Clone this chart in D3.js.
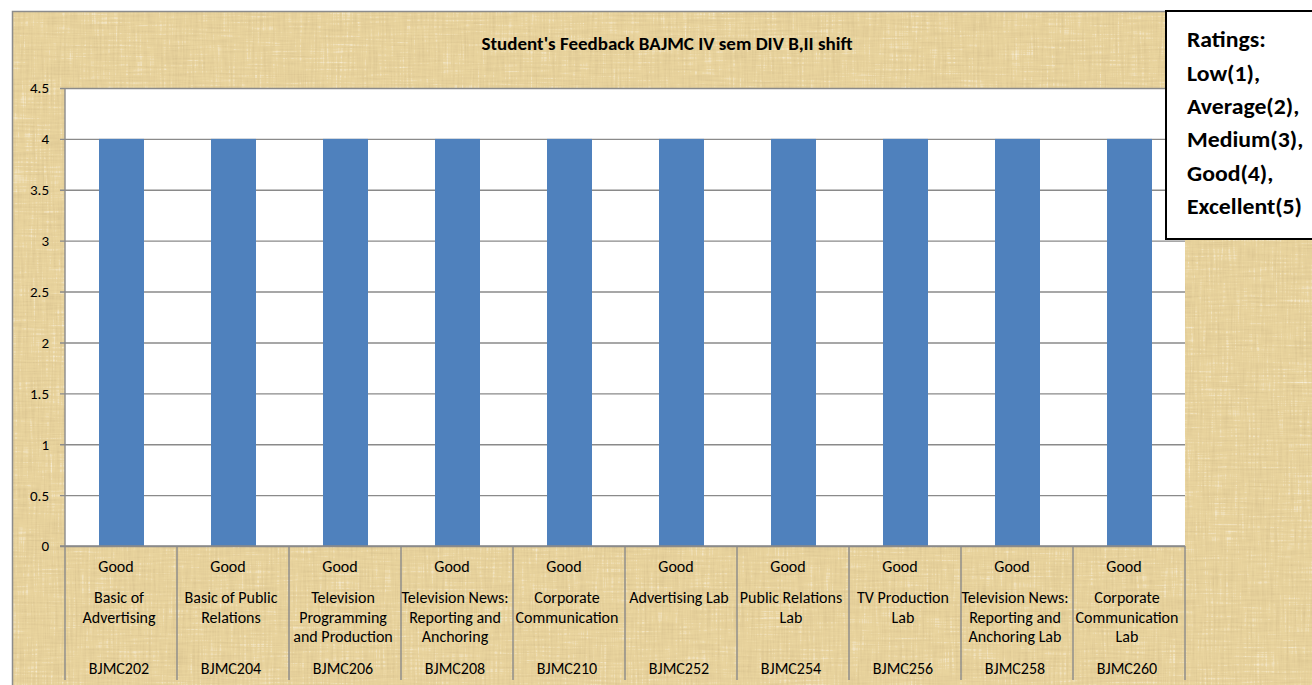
<!DOCTYPE html>
<html>
<head>
<meta charset="utf-8">
<script src="https://cdn.jsdelivr.net/npm/d3@7"></script>
<style>
  html, body { margin: 0; padding: 0; background: #ffffff; }
  svg { display: block; }
  text { font-family: Carlito, Calibri, "Open Sans", sans-serif; }
</style>
</head>
<body>
<script>
// ---- data ----
const codes = ["BJMC202","BJMC204","BJMC206","BJMC208","BJMC210","BJMC252","BJMC254","BJMC256","BJMC258","BJMC260"];
const subjects = [
  ["Basic of", "Advertising"],
  ["Basic of Public", "Relations"],
  ["Television", "Programming", "and Production"],
  ["Television News:", "Reporting and", "Anchoring"],
  ["Corporate", "Communication"],
  ["Advertising Lab"],
  ["Public Relations", "Lab"],
  ["TV Production", "Lab"],
  ["Television News:", "Reporting and", "Anchoring Lab"],
  ["Corporate", "Communication", "Lab"]
];
const ratings = ["Good","Good","Good","Good","Good","Good","Good","Good","Good","Good"];
const values = [4, 4, 4, 4, 4, 4, 4, 4, 4, 4];
const yTicks = [0, 0.5, 1, 1.5, 2, 2.5, 3, 3.5, 4, 4.5];
const title = "Student's Feedback BAJMC IV sem DIV B,II shift";
const legendLines = ["Ratings:", "Low(1),", "Average(2),", "Medium(3),", "Good(4),", "Excellent(5)"];

(function () {
const W = 1312, H = 685;
const svg = d3.select("body").append("svg").attr("width", W).attr("height", H);

// papyrus-like texture (deterministic SVG noise)
const defs = svg.append("defs");
const f = defs.append("filter").attr("id", "papyrus").attr("x", 0).attr("y", 0).attr("width", "100%").attr("height", "100%");
f.append("feTurbulence").attr("type", "fractalNoise").attr("baseFrequency", "0.45 0.025").attr("numOctaves", 3).attr("seed", 3).attr("result", "n1");
f.append("feTurbulence").attr("type", "fractalNoise").attr("baseFrequency", "0.025 0.45").attr("numOctaves", 3).attr("seed", 11).attr("result", "n2");
f.append("feComposite").attr("in", "n1").attr("in2", "n2").attr("operator", "arithmetic")
  .attr("k1", 0).attr("k2", 0.5).attr("k3", 0.5).attr("k4", 0).attr("result", "n");
// dark fibres
f.append("feColorMatrix").attr("in", "n").attr("type", "matrix")
  .attr("values", "0 0 0 0 0.70  0 0 0 0 0.55  0 0 0 0 0.28  2.4 0 0 0 -1.05").attr("result", "dark");
// light fibres
f.append("feColorMatrix").attr("in", "n").attr("type", "matrix")
  .attr("values", "0 0 0 0 0.98  0 0 0 0 0.94  0 0 0 0 0.82  -2.4 0 0 0 1.0").attr("result", "light");
f.append("feMerge").call(m => {
  m.append("feMergeNode").attr("in", "SourceGraphic");
  m.append("feMergeNode").attr("in", "light");
  m.append("feMergeNode").attr("in", "dark");
});

// chart frame
svg.append("rect").attr("x", 12).attr("y", 11).attr("width", W).attr("height", H)
  .attr("fill", "#e9d49e").attr("filter", "url(#papyrus)");
svg.append("rect").attr("x", 12.5).attr("y", 11.5).attr("width", W).attr("height", H)
  .attr("fill", "none").attr("stroke", "#8c8c8c").attr("stroke-width", 1.5);

// scales
const pL = 65, pR = 1185, pT = 88, pB = 546;
const x = d3.scaleBand().domain(codes).range([pL, pR]).paddingInner(0).paddingOuter(0);
const y = d3.scaleLinear().domain([0, 4.5]).range([pB, pT]);

// plot area
svg.append("rect").attr("x", pL).attr("y", pT).attr("width", pR - pL).attr("height", pB - pT).attr("fill", "#ffffff");

// gridlines + y axis
const yAxis = d3.axisLeft(y).tickValues(yTicks).tickSize(-(pR - pL)).tickPadding(16).tickFormat(d3.format("~g"));
const gy = svg.append("g").attr("transform", `translate(${pL},0)`).call(yAxis);
gy.select(".domain").remove();
gy.selectAll(".tick line").attr("stroke", "#8a8a8a").attr("stroke-width", 1.4).attr("x1", -5);
gy.selectAll(".tick text").attr("font-size", 15).attr("fill", "#000").attr("dy", "0.33em");

// bars
const barW = 45;
svg.append("g").selectAll("rect").data(values).join("rect")
  .attr("x", (d, i) => x(codes[i]) + x.bandwidth() / 2 - barW / 2 + 0.5)
  .attr("y", d => y(d))
  .attr("width", barW)
  .attr("height", d => y(0) - y(d))
  .attr("fill", "#4f81bd");

// y axis line
svg.append("line").attr("x1", pL).attr("x2", pL).attr("y1", pT).attr("y2", pB).attr("stroke", "#8a8a8a").attr("stroke-width", 1.4);
// x axis line
svg.append("line").attr("x1", pL - 5).attr("x2", pR).attr("y1", pB).attr("y2", pB).attr("stroke", "#8a8a8a").attr("stroke-width", 1.4);

// category dividers (multi-level axis)
const bounds = codes.map(c => x(c)).concat([pR]);
svg.append("g").selectAll("line").data(bounds).join("line")
  .attr("x1", d => d).attr("x2", d => d).attr("y1", pB).attr("y2", 680)
  .attr("stroke", "#8a8a8a").attr("stroke-width", 1.4);

// category labels
const cat = svg.append("g").attr("font-size", 16).attr("fill", "#000").attr("text-anchor", "middle");
codes.forEach((c, i) => {
  const cx = x(c) + x.bandwidth() / 2;
  cat.append("text").attr("x", cx - 5).attr("y", 567).attr("dy", "0.33em").text(ratings[i]);
  subjects[i].forEach((line, j) => {
    cat.append("text").attr("x", cx - 2).attr("y", 598 + j * 19.5).attr("dy", "0.33em").text(line);
  });
  cat.append("text").attr("x", cx - 2).attr("y", 669).attr("dy", "0.33em").text(c);
});

// title
svg.append("text").attr("transform", "translate(667,44)").attr("dy", "0.33em").attr("text-anchor", "middle")
  .attr("font-size", 19).attr("font-weight", "bold").attr("fill", "#000").text(title);

// ratings legend box
svg.append("rect").attr("x", 1166).attr("y", 11).attr("width", 160).attr("height", 228)
  .attr("fill", "#ffffff").attr("stroke", "#000").attr("stroke-width", 2);
const lg = svg.append("g").attr("font-size", 22).attr("font-weight", "bold").attr("fill", "#000");
legendLines.forEach((t, i) => {
  lg.append("text").attr("transform", `translate(1187,${40 + i * 33.4}) scale(1.08,1)`).attr("dy", "0.33em").text(t);
});
})();
</script>
</body>
</html>
